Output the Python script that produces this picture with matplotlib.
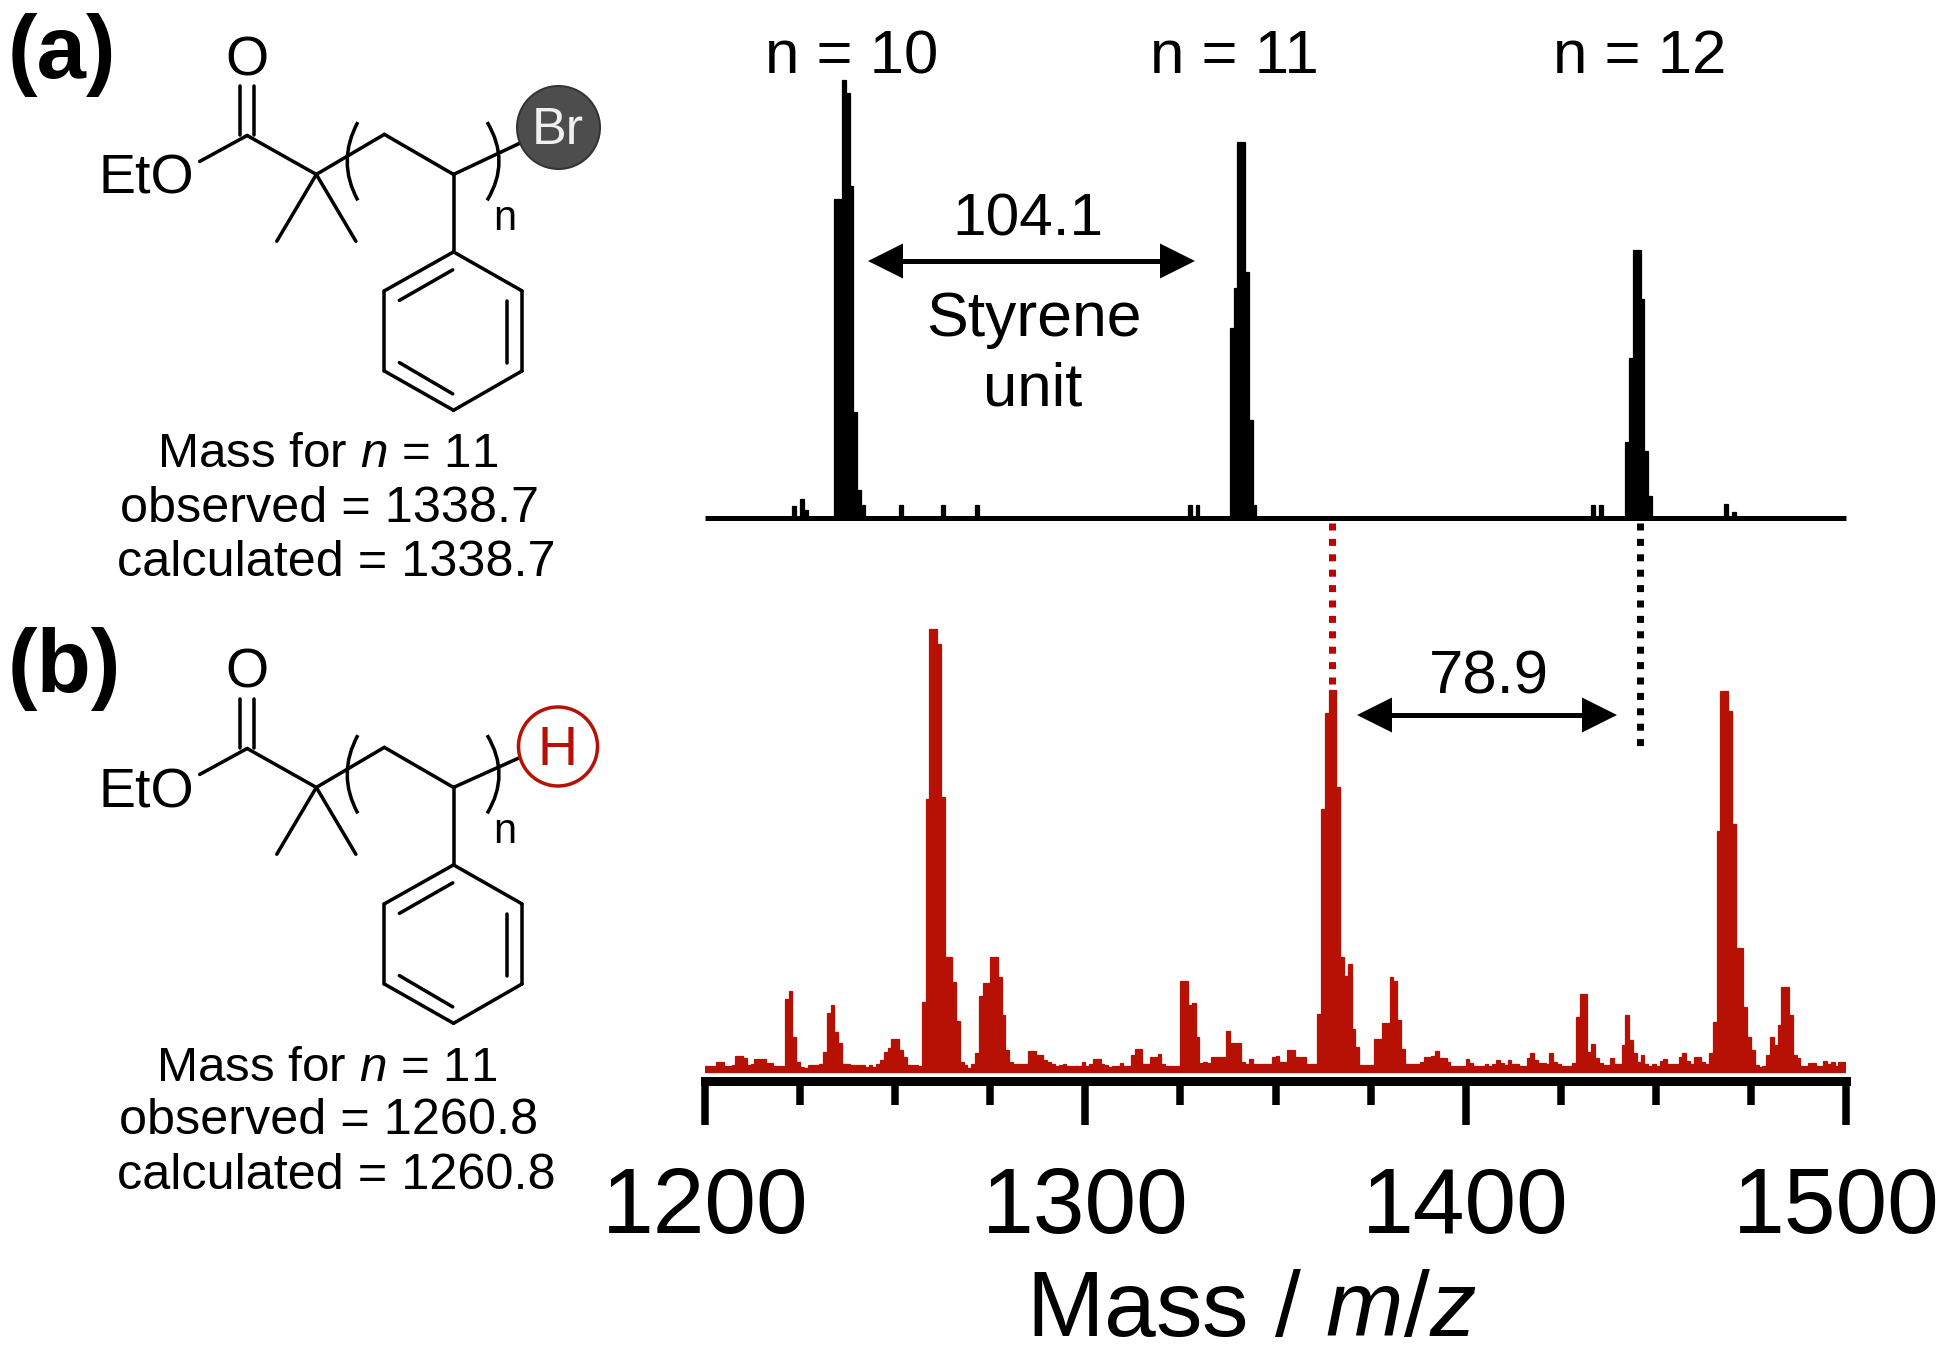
import numpy as np
import matplotlib
matplotlib.use('Agg')
import matplotlib.pyplot as plt
from matplotlib.path import Path
from matplotlib.patches import PathPatch, Circle
from matplotlib.transforms import ScaledTranslation

plt.rcParams['font.family'] = ['Liberation Sans', 'DejaVu Sans']
plt.rcParams['mathtext.fontset'] = 'custom'
plt.rcParams['mathtext.rm'] = 'Liberation Sans'
plt.rcParams['mathtext.it'] = 'Liberation Sans:italic'
plt.rcParams['mathtext.bf'] = 'Liberation Sans:bold'

RED = '#B71105'
W, H = 1950, 1357

# ---------- data ----------
xmin, xmax = 1200, 1500
major_ticks = [1200, 1300, 1400, 1500]
medium_ticks = [1250, 1350, 1450]
short_ticks = [1225, 1275, 1325, 1375, 1425, 1475]

black_mz = [1223, 1225, 1226, 1234, 1235, 1236, 1237, 1238, 1239, 1240, 1241,
            1251, 1262, 1271, 1327, 1329,
            1338, 1339, 1340, 1341, 1342, 1343, 1344,
            1433, 1435, 1442, 1443, 1444, 1445, 1446, 1447, 1448, 1468, 1470]
black_int = [12, 19, 8, 319, 319, 438, 425, 332, 106, 28, 13,
             13, 13, 13, 13, 13,
             190, 230, 376, 376, 246, 98, 13,
             13, 13, 76, 160, 268, 268, 219, 67, 22, 14, 6]

red_mz = np.arange(1200, 1500)
red_int = [
    6, 6, 6, 10, 10, 6, 6, 7, 16, 16,
    14, 7, 8, 13, 13, 13, 9, 9, 6, 6,
    6, 73, 81, 35, 10, 5, 4, 7, 7, 7,
    8, 20, 59, 67, 40, 29, 8, 8, 7, 7,
    7, 7, 5, 7, 5, 8, 12, 20, 24, 33,
    33, 22, 15, 7, 7, 7, 6, 70, 273, 443,
    443, 428, 275, 115, 115, 90, 51, 10, 7, 4,
    8, 19, 76, 89, 89, 115, 115, 95, 57, 22,
    10, 8, 8, 8, 8, 21, 21, 17, 17, 12,
    10, 8, 6, 7, 8, 6, 6, 6, 6, 10,
    6, 8, 13, 13, 8, 7, 5, 6, 6, 9,
    6, 6, 17, 23, 23, 8, 8, 15, 15, 18,
    8, 6, 6, 6, 6, 91, 91, 67, 69, 35,
    9, 10, 9, 15, 15, 15, 15, 41, 29, 29,
    29, 10, 8, 13, 8, 8, 8, 8, 8, 15,
    16, 10, 10, 22, 22, 15, 15, 15, 8, 8,
    8, 58, 263, 359, 382, 382, 285, 115, 96, 108,
    43, 25, 7, 7, 7, 7, 33, 33, 49, 49,
    95, 91, 52, 23, 8, 8, 8, 8, 10, 15,
    15, 16, 21, 14, 14, 10, 6, 6, 6, 6,
    13, 9, 6, 6, 6, 8, 6, 8, 12, 9,
    7, 12, 8, 8, 6, 6, 14, 19, 12, 9,
    9, 8, 19, 10, 8, 6, 6, 6, 9, 55,
    78, 78, 20, 28, 14, 9, 7, 7, 14, 8,
    8, 27, 57, 32, 19, 10, 17, 8, 6, 8,
    6, 11, 13, 8, 8, 8, 15, 19, 11, 8,
    15, 15, 10, 8, 19, 50, 241, 381, 381, 361,
    248, 124, 124, 65, 35, 22, 7, 5, 6, 17,
    35, 27, 47, 85, 85, 57, 17, 14, 6, 6,
    9, 9, 6, 6, 11, 8, 10, 6, 10, 10,
]
peak_red_mz = 1364.8
peak_black_mz = 1445.9

# ---------- layout in reference pixels ----------
fig = plt.figure(figsize=(W / 100, H / 100), dpi=100, facecolor='white')
PX = 72 / 100  # points per pixel


def axes_px(left, right, top, bottom):
    return fig.add_axes([left / W, 1 - bottom / H, (right - left) / W, (bottom - top) / H])


X0, X1 = 705, 1846

# spectrum (a)
ax_a = axes_px(X0, X1, 60, 518)
ax_a.set_xlim(xmin, xmax)
ax_a.set_ylim(0, 458)
ax_a.bar(black_mz, black_int, width=1, align='edge', color='black', edgecolor='black', linewidth=0.9)
for s in ['top', 'left', 'right']:
    ax_a.spines[s].set_visible(False)
ax_a.spines['bottom'].set_linewidth(5 * PX)
ax_a.spines['bottom'].set_capstyle('butt')
ax_a.set_xticks([])
ax_a.set_yticks([])
ax_a.patch.set_alpha(0)

# spectrum (b)
ax_b = axes_px(X0, X1, 620, 1081)
ax_b.set_xlim(xmin, xmax)
ax_b.set_ylim(-9, 452)
ax_b.bar(red_mz, red_int, width=1, align='edge', color=RED, edgecolor=RED, linewidth=0.9)
for s in ['top', 'left', 'right']:
    ax_b.spines[s].set_visible(False)
ax_b.spines['bottom'].set_linewidth(9 * PX)
ax_b.set_yticks([])
ax_b.patch.set_alpha(0)
ax_b.set_xticks(major_ticks)
ax_b.set_xticklabels([str(t) for t in major_ticks])
ax_b.set_xticks(medium_ticks + short_ticks, minor=True)
ax_b.tick_params(axis='x', which='major', length=44 * PX, width=7.5 * PX, pad=29.5, labelsize=67)
ax_b.tick_params(axis='x', which='minor', length=24 * PX, width=7.5 * PX)
for tick in ax_b.xaxis.get_minor_ticks():
    if tick.get_loc() in medium_ticks:
        tick.tick1line.set_markersize(34 * PX)
last_label = ax_b.get_xticklabels()[-1]
last_label.set_transform(last_label.get_transform() + ScaledTranslation(-10 / 100, 0, fig.dpi_scale_trans))
ax_b.set_xlabel(r'Mass / $\mathit{m/z}$', fontsize=67, labelpad=12, x=0.479)

# overlay for annotation and structures
ann = fig.add_axes([0, 0, 1, 1], zorder=10)
ann.set_xlim(0, W)
ann.set_ylim(H, 0)
ann.axis('off')


def mz_px(mz):
    return X0 + (mz - xmin) * (X1 - X0) / (xmax - xmin)


def double_arrow(x0, x1, y):
    hl, hw = 35, 17.5
    ann.plot([x0 + hl - 2, x1 - hl + 2], [y, y], color='black', lw=5 * PX, solid_capstyle='butt')
    ann.fill([x0, x0 + hl, x0 + hl], [y, y - hw, y + hw], color='black', lw=0)
    ann.fill([x1, x1 - hl, x1 - hl], [y, y - hw, y + hw], color='black', lw=0)


for mz, col in [(peak_red_mz, '#C00000'), (peak_black_mz, 'black')]:
    xp = mz_px(mz)
    bottom = 692 if col != 'black' else 747
    ann.plot([xp, xp], [523, bottom], color=col, lw=7 * PX, linestyle=(0, (1.0, 1.2)), dash_capstyle='butt')

double_arrow(868, 1195, 261)
double_arrow(1357, 1617, 715)

for s, x in [('n = 10', 852), ('n = 11', 1234), ('n = 12', 1640)]:
    ann.text(x, 73, s, ha='center', va='baseline', fontsize=44.5)
ann.text(1028, 236, '104.1', ha='center', va='baseline', fontsize=43.5)
ann.text(1034, 336, 'Styrene', ha='center', va='baseline', fontsize=45)
ann.text(1033, 405, 'unit', ha='center', va='baseline', fontsize=44.5)
ann.text(1489, 693, '78.9', ha='center', va='baseline', fontsize=44.5)

ann.text(8, 78, '(a)', ha='left', va='baseline', fontsize=64, fontweight='bold')
ann.text(8, 692, '(b)', ha='left', va='baseline', fontsize=64, fontweight='bold')


def structure(dy, end):
    kx = 1 / 2.529
    ky = 1 / 2.62

    def P(x, y):
        return x * kx, y * ky + dy

    def seg(a, b):
        ax, ay = P(*a)
        bx, by = P(*b)
        ann.plot([ax, bx], [ay, by], color='black', lw=3.5 * PX, solid_capstyle='round')

    bonds = [((607, 225), (607, 355)), ((643, 225), (643, 355)),
             ((505, 423), (625, 355)), ((625, 355), (800, 457)),
             ((800, 457), (700, 632)), ((800, 457), (900, 632)),
             ((800, 457), (972, 352)), ((972, 352), (1147, 457)),
             ((1147, 457), end), ((1147, 457), (1147, 660)),
             ((1147, 660), (1320, 762)), ((1320, 762), (1320, 972)),
             ((1320, 972), (1147, 1075)), ((1147, 1075), (972, 972)),
             ((972, 972), (972, 762)), ((972, 762), (1147, 660)),
             ((1010, 787), (1145, 707)), ((1283, 788), (1283, 950)),
             ((1010, 950), (1145, 1032))]
    for a, b in bonds:
        seg(a, b)
    for (x0, cx) in [(905, 851), (1232, 1292)]:
        verts = [P(x0, 320), P(cx, 423), P(x0, 525)]
        ann.add_patch(PathPatch(Path(verts, [Path.MOVETO, Path.CURVE3, Path.CURVE3]),
                                fill=False, edgecolor='black', lw=3.5 * PX))
    ann.text(247, 75 + dy, 'O', ha='center', va='baseline', fontsize=40)
    ann.text(146, 194 + dy, 'EtO', ha='center', va='baseline', fontsize=40)
    ann.text(505, 230 + dy, 'n', ha='center', va='baseline', fontsize=30)


structure(0, (1315, 375))
structure(613, (1312, 380))

ann.add_patch(Circle((558.5, 127.5), 41.5, facecolor='#4D4D4D', edgecolor='#333333', lw=2 * PX, zorder=5))
ann.text(558, 144.5, 'Br', color='#F0F0F0', ha='center', va='baseline', fontsize=37.5, zorder=6)
ann.add_patch(Circle((558, 746.5), 39.5, facecolor='white', edgecolor=RED, lw=3.5 * PX, zorder=5))
ann.text(557, 765, 'H', color=RED, ha='center', va='baseline', fontsize=40, zorder=6)

mass_text = [(328, 467, r'Mass for $\mathit{n}$ = 11'), (329, 522, 'observed = 1338.7'),
             (336, 576, 'calculated = 1338.7'), (327, 1081, r'Mass for $\mathit{n}$ = 11'),
             (329, 1134, 'observed = 1260.8'), (336, 1189, 'calculated = 1260.8')]
for i, (x, y, s) in enumerate(mass_text):
    ann.text(x, y, s, ha='center', va='baseline', fontsize=35.6 if i % 3 == 0 else 36.3)

fig.savefig('out.png', dpi=100, facecolor='white')
